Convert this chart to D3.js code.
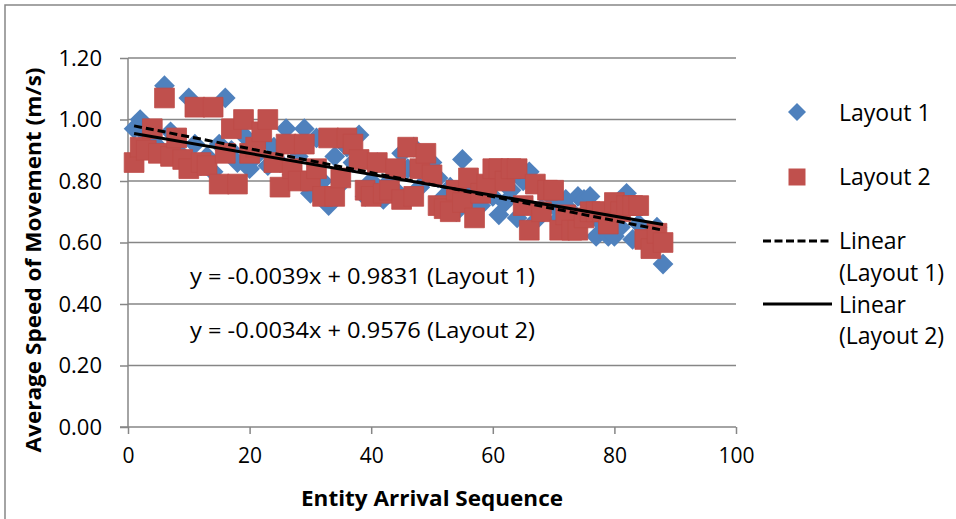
<!DOCTYPE html>
<html>
<head>
<meta charset="utf-8">
<script src="https://cdn.jsdelivr.net/npm/d3@7"></script>
<style>
  body { margin: 0; background: #fff; }
  text { font-family: "Open Sans", "DejaVu Sans", sans-serif; fill: #000; }
</style>
</head>
<body>
<svg id="chart" width="956" height="519"></svg>
<script>
// entity arrival sequence (x) shared by both layouts
var sequence = d3.range(1, 89);

// average speed of movement (m/s)
var layout1 = [0.97, 1.00, 0.95, 0.93, 0.91, 1.11, 0.96, 0.90, 0.88, 1.07,
               0.92, 0.85, 0.88, 0.83, 0.92, 1.07, 0.90, 0.86, 0.95, 0.84,
               0.88, 0.93, 0.85, 0.91, 0.86, 0.97, 0.82, 0.88, 0.97, 0.76,
               0.94, 0.80, 0.72, 0.88, 0.79, 0.91, 0.86, 0.95, 0.75, 0.80,
               0.86, 0.74, 0.80, 0.77, 0.89, 0.84, 0.91, 0.78, 0.83, 0.86,
               0.81, 0.75, 0.78, 0.70, 0.87, 0.76, 0.74, 0.72, 0.79, 0.75,
               0.69, 0.73, 0.77, 0.68, 0.80, 0.83, 0.67, 0.71, 0.76, 0.72,
               0.68, 0.74, 0.70, 0.75, 0.74, 0.75, 0.62, 0.66, 0.62, 0.62,
               0.65, 0.76, 0.61, 0.66, 0.64, 0.62, 0.65, 0.53];

var layout2 = [0.86, 0.91, 0.90, 0.97, 0.89, 1.07, 0.88, 0.94, 0.87, 0.84,
               1.04, 0.86, 0.85, 1.04, 0.79, 0.89, 0.97, 0.79, 1.00, 0.89,
               0.91, 0.96, 1.00, 0.86, 0.78, 0.92, 0.84, 0.80, 0.92, 0.80,
               0.84, 0.75, 0.94, 0.75, 0.81, 0.94, 0.92, 0.87, 0.77, 0.75,
               0.86, 0.76, 0.77, 0.84, 0.74, 0.91, 0.75, 0.84, 0.89, 0.82,
               0.72, 0.71, 0.70, 0.77, 0.73, 0.81, 0.68, 0.76, 0.79, 0.84,
               0.84, 0.80, 0.84, 0.84, 0.72, 0.64, 0.79, 0.70, 0.77, 0.77,
               0.64, 0.69, 0.64, 0.64, 0.68, 0.70, 0.70, 0.70, 0.66, 0.73,
               0.70, 0.72, 0.72, 0.72, 0.61, 0.58, 0.63, 0.60];

// linear trend lines as printed on the chart: [slope, intercept]
var trend1 = [-0.0039, 0.9831];
var trend2 = [-0.0034, 0.9576];
var equations = ['y = -0.0039x + 0.9831 (Layout 1)', 'y = -0.0034x + 0.9576 (Layout 2)'];

var xTicks = [0, 20, 40, 60, 80, 100];
var yTicks = [0, 0.2, 0.4, 0.6, 0.8, 1.0, 1.2];

var grey = '#868686';
var blue = '#4F81BD';
var red = '#C0504D';

var svg = d3.select('#chart');

// outer chart border
svg.append('rect')
    .attr('x', 5).attr('y', 5)
    .attr('width', 980).attr('height', 540)
    .attr('fill', 'none')
    .attr('stroke', grey)
    .attr('stroke-width', 1.5);

var x = d3.scaleLinear().domain([0, 100]).range([128, 736]);
var y = d3.scaleLinear().domain([0, 1.2]).range([427, 58]);

// horizontal gridlines
svg.append('g')
    .selectAll('line')
    .data(yTicks.filter(d => d > 0))
    .join('line')
    .attr('x1', x(0)).attr('x2', x(100))
    .attr('y1', d => y(d)).attr('y2', d => y(d))
    .attr('stroke', grey)
    .attr('stroke-width', 1.5);

// y axis
var yAxis = svg.append('g')
    .attr('transform', `translate(${x(0)},0)`)
    .call(d3.axisLeft(y).tickValues(yTicks).tickFormat(d3.format('.2f')).tickSize(8).tickPadding(18));
yAxis.select('.domain').attr('stroke', grey).attr('stroke-width', 1.5).attr('d', `M0,${y(1.2)}V${y(0)}`);
yAxis.selectAll('.tick line').attr('stroke', grey).attr('stroke-width', 1.5);
yAxis.selectAll('.tick text')
    .style('font-family', '"Open Sans", sans-serif')
    .style('font-size', '22px')
    .attr('fill', '#000');

// x axis
var xAxis = svg.append('g')
    .attr('transform', `translate(0,${y(0)})`)
    .call(d3.axisBottom(x).tickValues(xTicks).tickFormat(d3.format('d')).tickSize(7).tickPadding(14));
xAxis.select('.domain').attr('stroke', grey).attr('stroke-width', 1.5).attr('d', `M${x(0) - 8},0H${x(100)}`);
xAxis.selectAll('.tick line').attr('stroke', grey).attr('stroke-width', 1.5);
xAxis.selectAll('.tick text')
    .style('font-family', '"Open Sans", sans-serif')
    .style('font-size', '21px')
    .attr('fill', '#000');

// axis titles
svg.append('text')
    .attr('x', 432).attr('y', 506)
    .attr('text-anchor', 'middle')
    .attr('textLength', 262)
    .attr('lengthAdjust', 'spacingAndGlyphs')
    .style('font-size', '21px')
    .style('font-weight', 'bold')
    .text('Entity Arrival Sequence');

svg.append('text')
    .attr('transform', 'translate(41,260) rotate(-90)')
    .attr('text-anchor', 'middle')
    .attr('textLength', 385)
    .attr('lengthAdjust', 'spacingAndGlyphs')
    .style('font-size', '21px')
    .style('font-weight', 'bold')
    .text('Average Speed of Movement (m/s)');

// markers: layout 1 diamonds, layout 2 squares on top
var diamond = d3.symbol(d3.symbolSquare, 215);
var square = d3.symbol(d3.symbolSquare, 390);

svg.append('g')
    .selectAll('path')
    .data(sequence.map((s, i) => [s, layout1[i]]))
    .join('path')
    .attr('transform', d => `translate(${x(d[0])},${y(d[1])}) rotate(45)`)
    .attr('d', diamond)
    .attr('fill', blue);

svg.append('g')
    .selectAll('path')
    .data(sequence.map((s, i) => [s, layout2[i]]))
    .join('path')
    .attr('transform', d => `translate(${x(d[0])},${y(d[1])})`)
    .attr('d', square)
    .attr('fill', red)
    .attr('stroke', '#BE4B48')
    .attr('stroke-width', 0.8);

// trend lines over the data range
var first = sequence[0], last = sequence[sequence.length - 1];
var line = d3.line().x(d => x(d[0])).y(d => y(d[1]));
function trendPoints(t) {
    return [[first, t[0] * first + t[1]], [last, t[0] * last + t[1]]];
}
svg.append('path')
    .datum(trendPoints(trend1))
    .attr('d', line)
    .attr('fill', 'none')
    .attr('stroke', '#000')
    .attr('stroke-width', 3)
    .attr('stroke-dasharray', '8,4');
svg.append('path')
    .datum(trendPoints(trend2))
    .attr('d', line)
    .attr('fill', 'none')
    .attr('stroke', '#000')
    .attr('stroke-width', 3);

// trend equations
svg.selectAll('.eq')
    .data(equations)
    .join('text')
    .attr('class', 'eq')
    .attr('x', 190)
    .attr('y', (d, i) => 284 + i * 54)
    .attr('textLength', 345)
    .attr('lengthAdjust', 'spacingAndGlyphs')
    .style('font-size', '21px')
    .text(d => d);

// legend
var legend = svg.append('g').style('font-size', '23px');
legend.append('path')
    .attr('transform', 'translate(797,112) rotate(45)')
    .attr('d', d3.symbol(d3.symbolSquare, 162))
    .attr('fill', blue);
legend.append('path')
    .attr('transform', 'translate(797,177)')
    .attr('d', d3.symbol(d3.symbolSquare, 289))
    .attr('fill', red);
legend.append('line')
    .attr('x1', 763).attr('x2', 832).attr('y1', 241).attr('y2', 241)
    .attr('stroke', '#000').attr('stroke-width', 3).attr('stroke-dasharray', '8,3.5');
legend.append('line')
    .attr('x1', 763).attr('x2', 832).attr('y1', 304).attr('y2', 304)
    .attr('stroke', '#000').attr('stroke-width', 3);

var legendText = [['Layout 1', 121], ['Layout 2', 185], ['Linear', 249], ['(Layout 1)', 281], ['Linear', 313], ['(Layout 2)', 344]];
legend.selectAll('text')
    .data(legendText)
    .join('text')
    .attr('x', 839)
    .attr('y', d => d[1])
    .text(d => d[0]);
</script>
</body>
</html>
